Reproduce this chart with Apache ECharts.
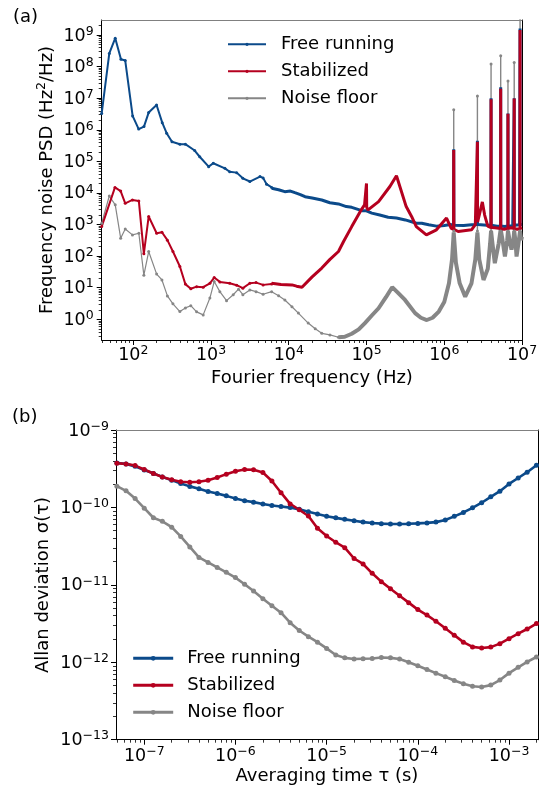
<!DOCTYPE html>
<html><head><meta charset="utf-8">
<script src="https://cdn.jsdelivr.net/npm/echarts@6/dist/echarts.min.js"></script>
<style>html,body{margin:0;padding:0;background:#fff;}#c{width:544px;height:787px;}</style>
</head><body><div id="c"></div>
<script>
// ---------- Panel (a): frequency noise PSD ----------
const freqFreeLow = [39.3, 49.2, 58.7, 69.5, 78.9, 98.2, 117.5, 137.4, 157.8, 199.5, 236, 269, 315, 398, 468, 617, 716, 933, 1070, 1510, 1740, 2140, 2570, 3160, 4270, 4680, 5190, 6030];
const psdFreeLow = [3.3e6, 2.6e8, 7.9e8, 1.7e8, 1.55e8, 2.75e6, 1.05e6, 1.26e6, 3.5e6, 6.1e6, 1.68e6, 7.8e5, 4.2e5, 3.5e5, 3.5e5, 2.2e5, 1.4e5, 6.8e4, 8.7e4, 6.0e4, 4.7e4, 4.4e4, 2.9e4, 2.3e4, 3.3e4, 3.0e4, 1.9e4, 1.5e4];
const freqFreeHigh = [6030, 7400, 8900, 10500, 12000, 14100, 16200, 20000, 26600, 33800, 43600, 55000, 64600, 87000, 98000, 117000, 148000, 190000, 243000, 316000, 437000, 513000, 631000, 794000, 1.0e6, 1.2e6, 1.318e6, 1.324e6, 1.330e6, 1.78e6, 2.24e6, 2.66e6, 2.67e6, 2.68e6, 2.82e6, 3.55e6, 3.99e6, 4.0e6, 4.01e6, 4.79e6, 5.31e6, 5.32e6, 5.33e6, 6.0e6, 6.59e6, 6.6e6, 6.61e6, 7.6e6, 7.93e6, 7.94e6, 7.95e6, 9.3e6, 9.43e6, 9.44e6, 9.45e6, 1.0e7];
const psdFreeHigh = [1.4e4, 1.26e4, 1.1e4, 1.15e4, 1.02e4, 8.9e3, 7.6e3, 6.9e3, 6.0e3, 4.9e3, 4.5e3, 3.7e3, 3.5e3, 2.75e3, 2.75e3, 2.3e3, 2.0e3, 1.7e3, 1.6e3, 1.4e3, 1.1e3, 1.1e3, 9.8e2, 8.9e2, 9.3e2, 1.0e3, 9.5e2, 2.4e5, 9.5e2, 9.3e2, 9.8e2, 1.0e3, 4.5e5, 1.0e3, 1.1e3, 9.5e2, 9.5e2, 1.0e7, 9.5e2, 8.9e2, 9.0e2, 2.2e7, 9.0e2, 8.7e2, 9.0e2, 3.3e6, 9.0e2, 9.1e2, 9.5e2, 1.0e7, 9.5e2, 9.8e2, 9.8e2, 1.6e9, 9.8e2, 1.0e3];

const freqStabLow = [39.3, 58.2, 68.9, 78.9, 97.7, 118, 137, 158, 200, 234, 275, 324, 398, 468, 550, 653, 794, 968, 1100, 1300, 1740, 2140, 2570, 3160, 3800, 4680, 6030];
const psdStabLow = [8.6e2, 1.5e4, 1.15e4, 4.7e3, 6.0e3, 5.6e3, 1.2e2, 1.8e3, 5.3e2, 5.7e2, 3.2e2, 1.4e2, 47, 13, 9.3, 10.8, 10.4, 13.8, 21, 15.3, 13.8, 12, 9.7, 13.8, 14.5, 12.3, 13.2];
const freqStabHigh = [6030, 7940, 11000, 12600, 14800, 20000, 26600, 33900, 43600, 50700, 64600, 83200, 94400, 99400, 100000, 100600, 104700, 143000, 200000, 243000, 324000, 380000, 437000, 589000, 794000, 1.07e6, 1.23e6, 1.318e6, 1.324e6, 1.330e6, 1.51e6, 2.24e6, 2.51e6, 2.66e6, 2.67e6, 2.68e6, 2.82e6, 3.09e6, 3.31e6, 3.63e6, 3.99e6, 4.0e6, 4.01e6, 4.47e6, 5.31e6, 5.32e6, 5.33e6, 5.89e6, 6.59e6, 6.6e6, 6.61e6, 7.24e6, 7.93e6, 7.94e6, 7.95e6, 8.7e6, 9.43e6, 9.44e6, 9.45e6, 1.0e7];
const psdStabHigh = [13.8, 12.6, 12.3, 11.2, 10.4, 22, 42, 79, 1.4e2, 2.9e2, 8.6e2, 2.6e3, 4.2e3, 4.4e3, 2.0e4, 3.5e3, 2.9e3, 5.3e3, 1.6e4, 3.5e4, 3.7e3, 1.8e3, 8.6e2, 4.7e2, 6.8e2, 1.6e3, 7.6e2, 7.1e2, 2.3e5, 7.1e2, 6.0e2, 6.8e2, 1.0e3, 1.0e3, 4.2e5, 1.2e3, 2.0e3, 5.2e3, 2.0e3, 8.9e2, 8.0e2, 9.2e6, 8.0e2, 7.9e2, 7.5e2, 2.0e7, 7.5e2, 7.1e2, 7.5e2, 3.2e6, 7.5e2, 7.9e2, 7.5e2, 9.7e6, 7.5e2, 7.1e2, 7.5e2, 1.45e9, 7.5e2, 7.9e2];

const freqNoiseLow = [39.3, 49.2, 58.7, 68.9, 78.9, 97.7, 118, 137, 158, 200, 234, 275, 324, 398, 468, 550, 653, 794, 968, 1100, 1300, 1585, 1930, 2260, 2570, 3160, 3800, 4680, 6030, 7410, 8910, 11000, 13300, 17800, 21900, 26600, 33900, 43600];
const psdNoiseLow = [1.1e3, 8.0e3, 4.2e3, 3.7e2, 7.2e2, 4.7e2, 5.3e2, 25, 1.4e2, 27, 17.6, 5.5, 3.1, 1.76, 2.3, 2.7, 1.72, 1.38, 4.7, 15.7, 7.5, 3.9, 6.0, 9.0, 6.0, 8.5, 7.5, 6.2, 7.5, 5.6, 4.1, 2.5, 1.57, 0.76, 0.5, 0.36, 0.32, 0.27];
const freqNoiseHigh = [43600, 52500, 64600, 79400, 95500, 117000, 143000, 178000, 214000, 251000, 313000, 422000, 501000, 597000, 708000, 851000, 1.0e6, 1.15e6, 1.26e6, 1.324e6, 1.41e6, 1.58e6, 1.86e6, 2.24e6, 2.51e6, 2.67e6, 2.82e6, 3.2e6, 3.63e6, 3.89e6, 4.0e6, 4.17e6, 4.47e6, 5.01e6, 5.32e6, 5.62e6, 6.03e6, 6.46e6, 6.6e6, 6.92e6, 7.33e6, 7.76e6, 7.94e6, 8.22e6, 8.51e6, 9.12e6, 9.44e6, 9.77e6, 1.0e7];
const psdNoiseHigh = [0.27, 0.28, 0.35, 0.48, 0.76, 1.32, 2.24, 5.0, 10.4, 7.1, 4.1, 1.57, 1.12, 0.95, 1.12, 1.76, 3.5, 13.8, 79, 5.6e2, 63, 13.8, 5.2, 13.8, 79, 5.6e2, 79, 17.6, 40, 2.5e2, 6.3e2, 2.5e2, 60, 2.5e2, 7.1e2, 3.2e2, 97, 3.2e2, 6.3e2, 3.2e2, 1.6e2, 3.2e2, 6.3e2, 3.2e2, 97, 3.2e2, 6.3e2, 3.2e2, 4.1e2];
const freqNoiseSpikes = [1.324e6, 2.67e6, 4.0e6, 5.32e6, 6.6e6, 7.94e6, 9.44e6];
const psdNoiseSpikeBase = [6.3e2, 6.3e2, 6.3e2, 6.3e2, 6.3e2, 6.3e2, 6.3e2];
const psdNoiseSpikeTop = [4.3e6, 1.17e7, 1.2e8, 2.2e8, 3.5e7, 1.36e8, 4e9];

const psdMajorExp = [0, 1, 2, 3, 4, 5, 6, 7, 8, 9];
const freqMajorExp = [2, 3, 4, 5, 6, 7];

// ---------- Panel (b): Allan deviation ----------
const tau = [5.01e-8, 6.31e-8, 7.94e-8, 1.0e-7, 1.26e-7, 1.58e-7, 2.0e-7, 2.51e-7, 3.16e-7, 3.98e-7, 5.01e-7, 6.31e-7, 7.94e-7, 1.0e-6, 1.26e-6, 1.58e-6, 2.0e-6, 2.51e-6, 3.16e-6, 3.98e-6, 5.01e-6, 6.31e-6, 7.94e-6, 1.0e-5, 1.26e-5, 1.58e-5, 2.0e-5, 2.51e-5, 3.16e-5, 3.98e-5, 5.01e-5, 6.31e-5, 7.94e-5, 1.0e-4, 1.26e-4, 1.58e-4, 2.0e-4, 2.51e-4, 3.16e-4, 3.98e-4, 5.01e-4, 6.31e-4, 7.94e-4, 1.0e-3, 1.26e-3, 1.58e-3, 2.0e-3];
const adevFree = [3.76e-10, 3.63e-10, 3.39e-10, 3.05e-10, 2.75e-10, 2.48e-10, 2.25e-10, 2.03e-10, 1.87e-10, 1.74e-10, 1.61e-10, 1.51e-10, 1.41e-10, 1.30e-10, 1.22e-10, 1.17e-10, 1.11e-10, 1.06e-10, 1.03e-10, 9.95e-11, 9.44e-11, 8.81e-11, 8.22e-11, 7.69e-11, 7.33e-11, 7.01e-11, 6.73e-11, 6.46e-11, 6.28e-11, 6.17e-11, 6.11e-11, 6.10e-11, 6.14e-11, 6.22e-11, 6.31e-11, 6.46e-11, 6.87e-11, 7.67e-11, 8.61e-11, 9.89e-11, 1.15e-10, 1.37e-10, 1.62e-10, 2.01e-10, 2.40e-10, 2.85e-10, 3.51e-10];
const adevStab = [3.72e-10, 3.65e-10, 3.47e-10, 3.09e-10, 2.74e-10, 2.47e-10, 2.28e-10, 2.15e-10, 2.11e-10, 2.15e-10, 2.24e-10, 2.43e-10, 2.69e-10, 2.94e-10, 3.09e-10, 3.07e-10, 2.82e-10, 2.19e-10, 1.55e-10, 1.11e-10, 9.33e-11, 7.76e-11, 5.37e-11, 4.27e-11, 3.55e-11, 3.02e-11, 2.19e-11, 1.86e-11, 1.41e-11, 1.10e-11, 8.91e-12, 7.24e-12, 5.89e-12, 4.79e-12, 4.07e-12, 3.39e-12, 2.75e-12, 2.24e-12, 1.82e-12, 1.58e-12, 1.53e-12, 1.57e-12, 1.74e-12, 2.02e-12, 2.34e-12, 2.69e-12, 3.16e-12];
const adevNoise = [1.88e-10, 1.64e-10, 1.30e-10, 9.77e-11, 7.36e-11, 6.61e-11, 5.56e-11, 4.22e-11, 3.09e-11, 2.26e-11, 1.95e-11, 1.68e-11, 1.45e-11, 1.24e-11, 1.02e-11, 8.32e-12, 6.61e-12, 5.37e-12, 4.37e-12, 3.24e-12, 2.57e-12, 2.14e-12, 1.82e-12, 1.51e-12, 1.24e-12, 1.14e-12, 1.10e-12, 1.11e-12, 1.12e-12, 1.15e-12, 1.14e-12, 1.10e-12, 1.00e-12, 9.02e-13, 8.07e-13, 7.24e-13, 6.50e-13, 5.82e-13, 5.27e-13, 4.90e-13, 4.79e-13, 5.07e-13, 5.89e-13, 7.24e-13, 8.61e-13, 1.01e-12, 1.17e-12];
const adevMajorExp = [-13, -12, -11, -10, -9];
const tauMajorExp = [-7, -6, -5, -4, -3];

const NAMES = ['Free running', 'Stabilized', 'Noise floor'];
const BLUE = '#0b4a8a', RED = '#b5001f', GRAY = '#868686';
const FONT = 'DejaVu Sans';

// ---------- helpers ----------
const lg = Math.log10;
function toLog(xs, ys) { return xs.map((x, i) => [lg(x), lg(ys[i])]); }
function minorTicks(lo, hi) {
  const out = [];
  for (let n = Math.floor(lo) - 1; n <= Math.ceil(hi); n++) {
    for (let k = 2; k <= 9; k++) { const v = n + lg(k); if (v > lo && v < hi) out.push(v); }
  }
  return out;
}
function supLabel(v) {
  const e = Math.round(v);
  return '{b|10}{s|' + (e < 0 ? '\u2212' + (-e) : '' + e) + '}';
}
const tickRich = {
  b: { fontFamily: FONT, fontSize: 17.5, color: '#000', lineHeight: 20, verticalAlign: 'bottom' },
  s: { fontFamily: FONT, fontSize: 12.5, color: '#000', lineHeight: 13, padding: [0, 0, 7, 0], verticalAlign: 'bottom' }
};
function axisSet(gi, dim, min, max, majors, margin) {
  const mainPos = dim === 'x' ? 'bottom' : 'left';
  const oppPos = dim === 'x' ? 'top' : 'right';
  const oppColor = dim === 'x' ? '#808080' : '#000';
  const base = { gridIndex: gi, type: 'value', min: min, max: max, splitLine: { show: false }, minorTick: { show: false } };
  return [
    Object.assign({}, base, {
      position: mainPos,
      axisLine: { show: true, onZero: false, lineStyle: { color: '#000', width: 1 } },
      axisTick: { show: true, inside: false, length: 5, lineStyle: { color: '#000', width: 1 }, customValues: majors },
      axisLabel: { show: true, customValues: majors, margin: margin, formatter: supLabel, rich: tickRich }
    }),
    Object.assign({}, base, {
      position: mainPos,
      axisLine: { show: false, onZero: false },
      axisTick: { show: true, inside: false, length: 3, lineStyle: { color: '#000', width: 0.8 }, customValues: minorTicks(min, max) },
      axisLabel: { show: false }
    }),
    Object.assign({}, base, {
      position: oppPos,
      axisLine: { show: true, onZero: false, lineStyle: { color: oppColor, width: 1 } },
      axisTick: { show: false },
      axisLabel: { show: false }
    })
  ];
}
function ser(name, data, color, width, symSize, axisIdx) {
  return {
    type: 'line', name: name, data: data, xAxisIndex: axisIdx, yAxisIndex: axisIdx,
    symbol: 'circle', symbolSize: symSize || 0, showSymbol: !!symSize, showAllSymbol: true,
    lineStyle: { color: color, width: width }, itemStyle: { color: color, borderWidth: 0 },
    emphasis: { disabled: true }, silent: true, animation: false, clip: true
  };
}

// ---------- axes ranges ----------
const topXMin = lg(39.3), topXMax = 7, topYMin = -0.655, topYMax = 9.475;
const botXMin = lg(4.9e-8), botXMax = lg(2.095e-3), botYMin = -13, botYMax = -9;

const xAxes = axisSet(0, 'x', topXMin, topXMax, freqMajorExp, 4.5).concat(axisSet(1, 'x', botXMin, botXMax, tauMajorExp, 5.5));
const yAxes = axisSet(0, 'y', topYMin, topYMax, psdMajorExp, 8).concat(axisSet(1, 'y', botYMin, botYMax, adevMajorExp, 7));

// ---------- series ----------
const series = [];
series.push(ser(NAMES[2], toLog(freqNoiseLow, psdNoiseLow), GRAY, 1.2, 3, 0));
series.push(ser(NAMES[2], toLog(freqNoiseHigh, psdNoiseHigh), GRAY, 4, 0, 0));
freqNoiseSpikes.forEach((f, i) => {
  series.push(ser(NAMES[2], toLog([f, f], [psdNoiseSpikeBase[i], psdNoiseSpikeTop[i]]), GRAY, 1.4, 3, 0));
});
series.push(ser(NAMES[0], toLog(freqFreeLow, psdFreeLow), BLUE, 2, 3, 0));
series.push(ser(NAMES[0], toLog(freqFreeHigh, psdFreeHigh), BLUE, 3, 0, 0));
series.push(ser(NAMES[1], toLog(freqStabLow, psdStabLow), RED, 2, 3, 0));
series.push(ser(NAMES[1], toLog(freqStabHigh, psdStabHigh), RED, 3, 0, 0));

series.push(ser(NAMES[0], toLog(tau, adevFree), BLUE, 2.6, 5, 3));
series.push(ser(NAMES[1], toLog(tau, adevStab), RED, 2.6, 5, 3));
series.push(ser(NAMES[2], toLog(tau, adevNoise), GRAY, 2.6, 5, 3));

// ---------- legends ----------
function legendCfg(left, top, itemWidth, itemHeight, padLeft, lineWidth) {
  return {
    orient: 'vertical', left: left, top: top, padding: 0, itemGap: 7,
    itemWidth: itemWidth, itemHeight: itemHeight, selectedMode: false,
    data: NAMES.slice(),
    lineStyle: lineWidth ? { width: lineWidth } : {},
    formatter: n => '{t|' + n + '}',
    textStyle: { fontFamily: FONT, fontSize: 18, color: '#000', lineHeight: 20,
      rich: { t: { fontFamily: FONT, fontSize: 18, color: '#000', lineHeight: 20, padding: [0, 0, 0, padLeft] } } }
  };
}

// ---------- text ----------
const titleStyle = { fontFamily: FONT, fontSize: 18, fill: '#000' };
function txt(text, x, y, rot, align) {
  return { type: 'text', x: x, y: y, rotation: rot || 0, silent: true,
    style: Object.assign({ text: text, x: 0, y: 0, align: align || 'center', verticalAlign: 'middle' }, titleStyle) };
}
const graphics = [
  txt('(a)', 13, 17.5, 0, 'left'),
  txt('(b)', 12, 417.5, 0, 'left'),
  txt('Fourier frequency (Hz)', 312, 378),
  txt('Averaging time \u03c4 (s)', 327, 776),
  txt('Allan deviation \u03c3(\u03c4)', 43, 585, Math.PI / 2),
  { type: 'text', x: 46.5, y: 180, rotation: Math.PI / 2, silent: true,
    style: { text: '{n|Frequency noise PSD (Hz}{s|2}{n|/Hz)}', x: 0, y: 0, align: 'center', verticalAlign: 'middle',
      rich: { n: { fontFamily: FONT, fontSize: 18, fill: '#000', lineHeight: 20, verticalAlign: 'bottom' },
              s: { fontFamily: FONT, fontSize: 12.5, fill: '#000', lineHeight: 13, padding: [0, 0, 8, 0], verticalAlign: 'bottom' } } } }
];

const chart = echarts.init(document.getElementById('c'), null, { renderer: 'canvas' });
chart.setOption({
  backgroundColor: '#fff',
  animation: false,
  grid: [
    { left: 101.7, top: 20, width: 420.3, height: 320, containLabel: false },
    { left: 116, top: 430, width: 422.3, height: 309.7, containLabel: false }
  ],
  xAxis: xAxes,
  yAxis: yAxes,
  legend: [legendCfg(227, 34.3, 38, 4, 10, 0), legendCfg(131.7, 648.3, 40, 6, 9, 3)],
  series: series,
  graphic: { elements: graphics }
});
</script></body></html>
